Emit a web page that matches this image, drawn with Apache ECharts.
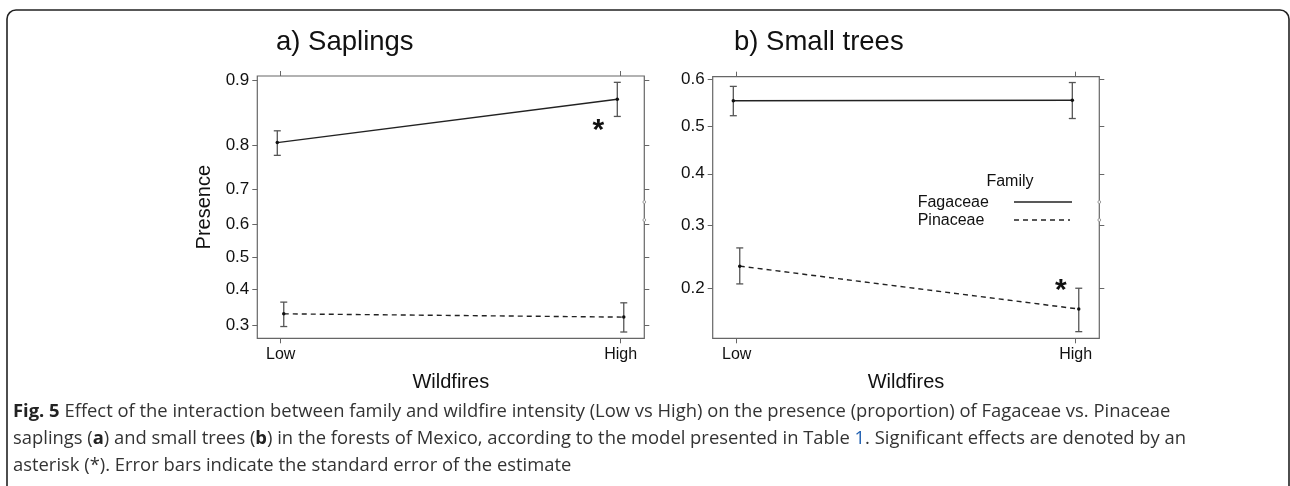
<!DOCTYPE html>
<html><head><meta charset="utf-8">
<script src="https://cdn.jsdelivr.net/npm/echarts@6/dist/echarts.min.js"></script>
<style>html,body{margin:0;padding:0;background:#fff;} #c{width:1290px;height:486px;}</style>
</head><body><div id="c"></div>
<script>
// ---- data ----
const categories = ['Low', 'High'];
const families = ['Fagaceae', 'Pinaceae'];
const panelTitles = ['a) Saplings', 'b) Small trees'];
const saplingTicks = [0.3, 0.4, 0.5, 0.6, 0.7, 0.8, 0.9];
const treeTicks = [0.2, 0.3, 0.4, 0.5, 0.6];
// Saplings
const sapFagMean = [0.806, 0.877];
const sapFagLow  = [0.780, 0.852];
const sapFagHigh = [0.828, 0.898];
const sapPinMean = [0.330, 0.321];
const sapPinLow  = [0.296, 0.282];
const sapPinHigh = [0.363, 0.361];
// Small trees
const treeFagMean = [0.555, 0.556];
const treeFagLow  = [0.523, 0.517];
const treeFagHigh = [0.585, 0.593];
const treePinMean = [0.232, 0.173];
const treePinLow  = [0.206, 0.147];
const treePinHigh = [0.261, 0.200];
// significance asterisks: [x position on category scale (Low=1, High=2), proportion]
const sapStar = [1.934, 0.838];
const treeStar = [1.956, 0.205];

// ---- helpers ----
const logit = p => Math.log(p / (1 - p));
const inv = v => 1 / (1 + Math.exp(-v));
const dodge = { Fagaceae: -0.010, Pinaceae: 0.009 };
const xPos = (i, fam) => i + 1 + dodge[fam];

const TXT = '#111', AX = '#666', ERR = '#555';
const FONT = '"Liberation Sans", Arial, sans-serif';

function lineSeries(fam, means, xi, yi) {
  return {
    type: 'line', name: fam, xAxisIndex: xi, yAxisIndex: yi,
    data: means.map((m, i) => [xPos(i, fam), logit(m)]),
    symbol: 'circle', symbolSize: 3.5, showSymbol: true,
    itemStyle: { color: '#111' },
    lineStyle: { color: '#222', width: 1.4, type: fam === 'Fagaceae' ? 'solid' : [5, 4] },
    z: 3, silent: true, animation: false
  };
}
function errSeries(fam, lo, hi, xi, yi) {
  return {
    type: 'custom', xAxisIndex: xi, yAxisIndex: yi, silent: true, z: 2, animation: false,
    data: lo.map((l, i) => [xPos(i, fam), logit(l), logit(hi[i])]),
    renderItem: (params, api) => {
      const t = api.coord([api.value(0), api.value(2)]);
      const b = api.coord([api.value(0), api.value(1)]);
      const w = 3.5, st = { stroke: ERR, lineWidth: 1.3 };
      return { type: 'group', children: [
        { type: 'line', shape: { x1: t[0], y1: t[1], x2: b[0], y2: b[1] }, style: st },
        { type: 'line', shape: { x1: t[0] - w, y1: t[1], x2: t[0] + w, y2: t[1] }, style: st },
        { type: 'line', shape: { x1: b[0] - w, y1: b[1], x2: b[0] + w, y2: b[1] }, style: st }
      ]};
    }
  };
}
function starSeries(star, xi, yi) {
  return {
    type: 'custom', xAxisIndex: xi, yAxisIndex: yi, silent: true, z: 4, animation: false,
    data: [[star[0], logit(star[1])]],
    renderItem: (params, api) => {
      const p = api.coord([api.value(0), api.value(1)]);
      return { type: 'text', x: p[0], y: p[1] + 6,
        style: { text: '*', fontSize: 30, fontWeight: 'bold', fill: '#111', fontFamily: FONT,
                 align: 'center', verticalAlign: 'middle' } };
    }
  };
}

function xAxes(gi, min, max) {
  const base = { type: 'value', gridIndex: gi, min, max, splitLine: { show: false },
    axisLine: { show: false, onZero: false } };
  return [
    Object.assign({}, base, { position: 'bottom',
      name: 'Wildfires', nameLocation: 'middle', nameGap: 34,
      nameTextStyle: { fontSize: 20, color: TXT, fontFamily: FONT },
      axisTick: { show: true, length: 5, customValues: [1, 2], lineStyle: { color: AX } },
      axisLabel: { show: true, customValues: [1, 2], margin: 8, fontSize: 16, color: TXT, fontFamily: FONT,
                   formatter: v => categories[Math.round(v) - 1] } }),
    Object.assign({}, base, { position: 'top',
      axisTick: { show: true, length: 5, customValues: [1, 2], lineStyle: { color: AX } },
      axisLabel: { show: false } })
  ];
}
function yAxes(gi, ticks, pmin, pmax, name) {
  const vals = ticks.map(logit);
  const base = { type: 'value', gridIndex: gi, min: logit(pmin), max: logit(pmax),
    splitLine: { show: false }, axisLine: { show: false, onZero: false } };
  const left = Object.assign({}, base, { position: 'left',
      axisTick: { show: true, length: 5, customValues: vals, lineStyle: { color: AX } },
      axisLabel: { show: true, customValues: vals, margin: 8, fontSize: 17, color: TXT, fontFamily: FONT,
                   formatter: v => inv(v).toFixed(1) } });
  if (name) Object.assign(left, { name, nameLocation: 'middle', nameGap: 43,
      nameTextStyle: { fontSize: 20, color: TXT, fontFamily: FONT } });
  return [left,
    Object.assign({}, base, { position: 'right',
      axisTick: { show: true, length: 5, customValues: vals, lineStyle: { color: AX } },
      axisLabel: { show: false } })];
}

const legendG = [];
[644.3, 1099.3].forEach(x => {
  [202, 220].forEach(y => legendG.push({ type: 'circle', shape: { cx: x, cy: y, r: 1.4 },
    style: { fill: '#fff', stroke: '#888', lineWidth: 0.8 }, z: 10 }));
});

const CAPFONT = '"Open Sans", "Noto Sans", sans-serif';
const capSize = 18.4;
const caption = [
  '{b|Fig. 5} Effect of the interaction between family and wildfire intensity (Low vs High) on the presence (proportion) of Fagaceae vs. Pinaceae',
  'saplings ({b|a}) and small trees ({b|b}) in the forests of Mexico, according to the model presented in Table {l|1}. Significant effects are denoted by an',
  'asterisk (*). Error bars indicate the standard error of the estimate'
];

const chart = echarts.init(document.getElementById('c'), null, { renderer: 'canvas' });
chart.setOption({
  animation: false,
  backgroundColor: '#fff',
  title: [
    { text: panelTitles[0], left: 276, top: 28, padding: 0,
      textStyle: { fontSize: 27.5, fontWeight: 'normal', color: TXT, fontFamily: FONT } },
    { text: panelTitles[1], left: 734, top: 28, padding: 0,
      textStyle: { fontSize: 27.5, fontWeight: 'normal', color: TXT, fontFamily: FONT } }
  ],
  grid: [
    { left: 257.3, top: 76, width: 387, height: 262.3, show: true, borderColor: AX, borderWidth: 1.2, backgroundColor: 'transparent' },
    { left: 712.7, top: 76.7, width: 386.6, height: 261.6, show: true, borderColor: AX, borderWidth: 1.2, backgroundColor: 'transparent' }
  ],
  xAxis: [...xAxes(0, 0.9312, 2.0694), ...xAxes(1, 0.9292, 2.0696)],
  yAxis: [...yAxes(0, saplingTicks, 0.2664, 0.905, 'Presence'), ...yAxes(1, treeTicks, 0.140, 0.605, null)],
  series: [
    errSeries('Fagaceae', sapFagLow, sapFagHigh, 0, 0),
    errSeries('Pinaceae', sapPinLow, sapPinHigh, 0, 0),
    lineSeries('Fagaceae', sapFagMean, 0, 0),
    lineSeries('Pinaceae', sapPinMean, 0, 0),
    starSeries(sapStar, 0, 0),
    errSeries('Fagaceae', treeFagLow, treeFagHigh, 2, 2),
    errSeries('Pinaceae', treePinLow, treePinHigh, 2, 2),
    lineSeries('Fagaceae', treeFagMean, 2, 2),
    lineSeries('Pinaceae', treePinMean, 2, 2),
    starSeries(treeStar, 2, 2)
  ],
  graphic: [
    { type: 'rect', shape: { x: 7, y: 10, width: 1282, height: 700, r: 9 },
      style: { fill: 'none', stroke: '#222', lineWidth: 1.6 }, silent: true },
    // legend (panel b)
    { type: 'text', x: 1010, y: 182, style: { text: 'Family', fontSize: 16, fontFamily: FONT, fill: TXT,
      align: 'center', verticalAlign: 'middle' } },
    { type: 'text', x: 917.7, y: 203, style: { text: families[0], fontSize: 16, fontFamily: FONT, fill: TXT,
      verticalAlign: 'middle' } },
    { type: 'text', x: 917.7, y: 221, style: { text: families[1], fontSize: 16, fontFamily: FONT, fill: TXT,
      verticalAlign: 'middle' } },
    { type: 'line', shape: { x1: 1014, y1: 202, x2: 1072, y2: 202 }, style: { stroke: '#222', lineWidth: 1.4 } },
    { type: 'line', shape: { x1: 1014, y1: 220, x2: 1070, y2: 220 }, style: { stroke: '#222', lineWidth: 1.4, lineDash: [5, 4] } },
    ...legendG,
    ...caption.map((t, i) => ({
      type: 'text', x: 13, y: 412 + i * 27,
      style: { text: t, verticalAlign: 'middle', fontFamily: CAPFONT, fontSize: capSize, fill: '#333',
        rich: { b: { fontWeight: 'bold', fontFamily: CAPFONT, fontSize: capSize, fill: '#222' },
                l: { fontFamily: CAPFONT, fontSize: capSize, fill: '#1f5fb0' } } }
    }))
  ]
});
</script></body></html>
